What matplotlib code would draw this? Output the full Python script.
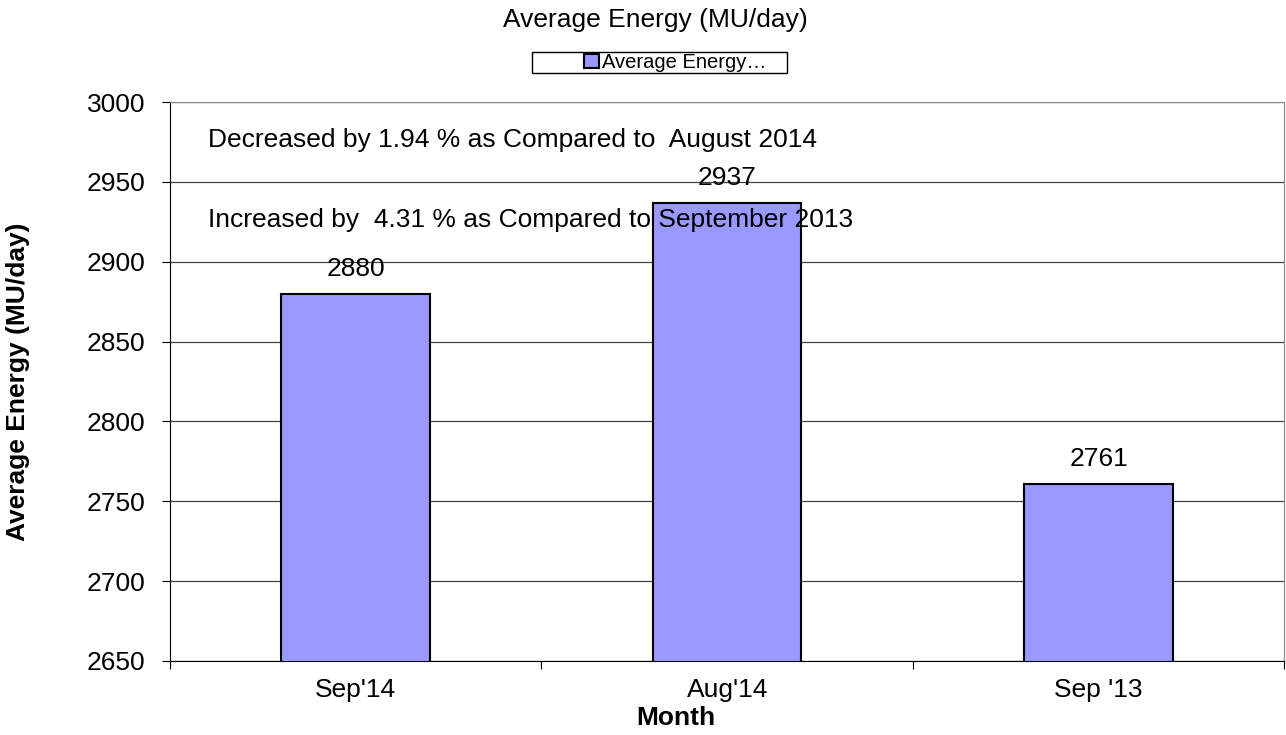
#!/usr/bin/env python3

from matplotlib import pyplot as plt
from matplotlib.patches import Patch, Rectangle

months = ["Sep'14", "Aug'14", "Sep '13"]
energy = [2880, 2937, 2761]
y_ticks = [2650, 2700, 2750, 2800, 2850, 2900, 2950, 3000]
note_dec = 'Decreased by 1.94 % as Compared to  August 2014'
note_inc = 'Increased by  4.31 % as Compared to September 2013'

plt.rcParams['font.family'] = ['Liberation Sans', 'DejaVu Sans']
FS = 19

fig = plt.figure(figsize=(12.86, 7.35), dpi=100)
ax = fig.add_axes([0.1322, 0.1007, 0.8665, 0.7605])

x = list(range(len(months)))
bars = ax.bar(x, energy, width=0.4, color='#9999FF', edgecolor='black',
              linewidth=1.5, zorder=3)

# value labels above the bars
for b, v in zip(bars, energy):
    ax.annotate(str(v), (b.get_x() + b.get_width() / 2, v),
                xytext=(0, 18), textcoords='offset points',
                ha='center', va='center', fontsize=FS, zorder=4)

ax.set_xlim(-0.5, 2.5)
ax.set_ylim(2650, 3000)
ax.set_yticks(y_ticks)
ax.tick_params(axis='y', labelsize=FS, direction='out', length=6, pad=12)
ax.set_xticks([-0.5, 0.5, 1.5, 2.5])
ax.set_xticklabels([])
ax.set_xticks(x, minor=True)
ax.set_xticklabels(months, minor=True, fontsize=FS)
ax.tick_params(axis='x', which='major', direction='out', length=6)
ax.tick_params(axis='x', which='minor', length=0, pad=12)

ax.yaxis.grid(True, color='#444444', linewidth=0.9, zorder=0)
for side in ['top', 'right']:
    ax.spines[side].set_color('#888888')
for side in ['left', 'bottom']:
    ax.spines[side].set_color('black')

ax.text(-0.398, 2976, note_dec, fontsize=FS, va='center', ha='left', zorder=5)
ax.text(-0.398, 2926, note_inc, fontsize=FS, va='center', ha='left', zorder=5)

ax.set_ylabel('Average Energy (MU/day)', fontsize=FS, fontweight='bold',
              va='center', ha='center')
ax.yaxis.set_label_coords(-0.1364, 0.5)
ax.set_xlabel('Month', fontsize=FS, fontweight='bold', va='center', ha='center')
ax.xaxis.set_label_coords(0.454, -0.102)

fig.text(0.510, 0.973, 'Average Energy (MU/day)', ha='center', va='center', fontsize=FS)

# legend box, drawn wider than its content like the original
fig.patches.append(Rectangle((532 / 1286, 1 - 73 / 735), 255 / 1286, 21 / 735,
                             transform=fig.transFigure, facecolor='white',
                             edgecolor='black', linewidth=1.0, zorder=1))
handle = Patch(facecolor='#9999FF', edgecolor='black', linewidth=1.5)
leg = fig.legend([handle], ['Average Energy…'], loc='center',
                 bbox_to_anchor=(0.525, 0.915), fontsize=14.5, frameon=False,
                 handlelength=0.75, handleheight=0.75,
                 handletextpad=0.15, borderpad=0.1, borderaxespad=0)
leg.set_zorder(2)

fig.savefig('out.png', dpi=100)
